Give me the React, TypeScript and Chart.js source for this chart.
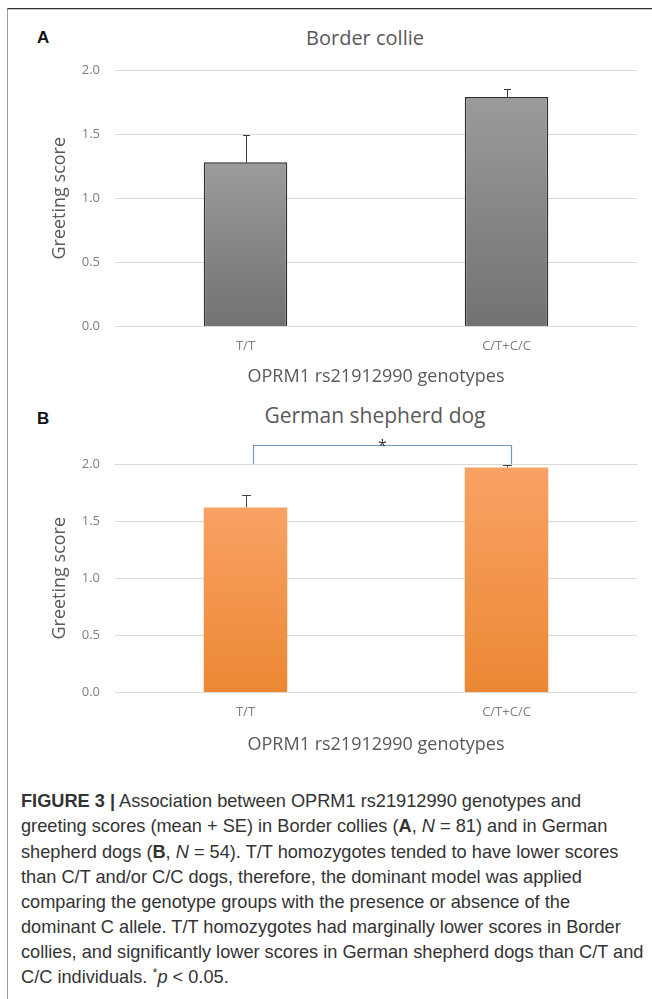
import React, { useEffect, useRef } from "react";
import { Chart, registerables } from "chart.js";

Chart.register(...registerables);

// ---------- data ----------
const categories = ["T/T", "C/T+C/C"];
const collieMeans = [1.28, 1.79];
const collieSE = [0.21, 0.06];
const shepherdMeans = [1.62, 1.97];
const shepherdSE = [0.11, 0.02];
const yTickValues = [0, 0.5, 1.0, 1.5, 2.0];
const yTickLabels = ["0.0", "0.5", "1.0", "1.5", "2.0"];
const yAxisTitle = "Greeting score";
const xAxisTitle = "OPRM1 rs21912990 genotypes";
const panelTitles = ["Border collie", "German shepherd dog"];
const panelLetters = ["A", "B"];
const bracketLevel = 2.17;
const bracketFoot = 2.0;
const bracketLabel = "*";

const FONT = "'Open Sans', 'DejaVu Sans', sans-serif";
const CAPTION_FONT = "'Liberation Sans', Arial, sans-serif";

function gradientFill(colors: [string, string]) {
  return (c: any) => {
    const chart = c.chart;
    const y = chart.scales && chart.scales.y;
    if (!y || c.raw == null) return colors[1];
    const top = y.getPixelForValue(c.raw);
    const bottom = y.getPixelForValue(0);
    if (!isFinite(top) || !isFinite(bottom) || top === bottom) return colors[1];
    const g = chart.ctx.createLinearGradient(0, top, 0, bottom);
    g.addColorStop(0, colors[0]);
    g.addColorStop(1, colors[1]);
    return g;
  };
}

function errorBarPlugin(se: number[], color: string, cap: number) {
  return {
    id: "errorBars",
    afterDatasetsDraw(chart: any) {
      const meta = chart.getDatasetMeta(0);
      const y = chart.scales.y;
      const ctx = chart.ctx;
      const data = chart.data.datasets[0].data as number[];
      ctx.save();
      ctx.strokeStyle = color;
      ctx.lineWidth = 1;
      meta.data.forEach((bar: any, i: number) => {
        const x = Math.round(bar.x) + 0.5;
        const yTop = Math.round(y.getPixelForValue(data[i] + se[i])) + 0.5;
        const yBase = bar.y;
        ctx.beginPath();
        ctx.moveTo(x, yBase);
        ctx.lineTo(x, yTop);
        ctx.moveTo(x - cap / 2, yTop);
        ctx.lineTo(x + cap / 2, yTop);
        ctx.stroke();
      });
      ctx.restore();
    },
  };
}

const bracketPlugin = {
  id: "sigBracket",
  afterDraw(chart: any) {
    const x = chart.scales.x;
    const y = chart.scales.y;
    const ctx = chart.ctx;
    const x1 = Math.round(x.getPixelForValue(0) + 7) + 0.5;
    const x2 = Math.round(x.getPixelForValue(1) + 4) + 0.5;
    const yTop = Math.round(y.getPixelForValue(bracketLevel)) + 0.5;
    const yFoot = y.getPixelForValue(bracketFoot);
    ctx.save();
    ctx.strokeStyle = "#7396c6";
    ctx.lineWidth = 1.2;
    ctx.beginPath();
    ctx.moveTo(x1, yFoot);
    ctx.lineTo(x1, yTop);
    ctx.lineTo(x2, yTop);
    ctx.lineTo(x2, yFoot);
    ctx.stroke();
    ctx.fillStyle = "#333333";
    ctx.font = "16px " + FONT;
    ctx.textAlign = "center";
    ctx.textBaseline = "alphabetic";
    ctx.fillText(bracketLabel, (x1 + x2) / 2, yTop + 5);
    ctx.restore();
  },
};

type PanelProps = {
  top: number;
  height: number;
  means: number[];
  se: number[];
  fill: [string, string];
  border: string;
  borderWidth: number;
  errColor: string;
  cap: number;
  padTop: number;
  padBottom: number;
  xTitlePadTop: number;
  bracket?: boolean;
};

function BarPanel(p: PanelProps) {
  const ref = useRef<HTMLCanvasElement | null>(null);
  useEffect(() => {
    if (!ref.current) return;
    const plugins: any[] = [errorBarPlugin(p.se, p.errColor, p.cap)];
    if (p.bracket) plugins.push(bracketPlugin);
    const chart = new Chart(ref.current, {
      type: "bar",
      data: {
        labels: categories,
        datasets: [
          {
            data: p.means,
            backgroundColor: gradientFill(p.fill) as any,
            borderColor: p.border,
            borderWidth: p.borderWidth,
            barPercentage: 0.32,
            categoryPercentage: 1,
          },
        ],
      },
      options: {
        responsive: false,
        animation: false,
        devicePixelRatio: 1,
        layout: { padding: { left: 0, right: 15, top: p.padTop, bottom: p.padBottom } },
        plugins: {
          legend: { display: false },
          tooltip: { enabled: false },
          title: { display: false },
        },
        scales: {
          x: {
            grid: { display: false, drawTicks: false },
            border: { display: false },
            ticks: { padding: 12, color: "#7f7f7f", font: { family: FONT, size: 13 } },
            title: {
              display: true,
              text: xAxisTitle,
              color: "#595959",
              font: { family: FONT, size: 18 },
              padding: { top: p.xTitlePadTop, bottom: 0 },
            },
          },
          y: {
            min: 0,
            max: 2,
            afterFit: (s: any) => {
              s.width = 115;
            },
            afterBuildTicks: (s: any) => {
              s.ticks = yTickValues.map((v) => ({ value: v }));
            },
            grid: { color: "#d9d9d9", drawTicks: false, lineWidth: 1 },
            border: { display: false },
            ticks: {
              padding: 15,
              color: "#7f7f7f",
              font: { family: FONT, size: 13 },
              callback: (_v: any, i: number) => yTickLabels[i],
            },
            title: {
              display: true,
              text: yAxisTitle,
              color: "#595959",
              font: { family: FONT, size: 18 },
              padding: { top: 49, bottom: 0 },
            },
          },
        },
      } as any,
      plugins,
    });
    return () => chart.destroy();
  }, []);
  return (
    <canvas
      ref={ref}
      width={652}
      height={p.height}
      style={{ position: "absolute", left: 0, top: p.top, width: 652, height: p.height }}
    />
  );
}

const letterStyle: React.CSSProperties = {
  position: "absolute",
  left: 37,
  font: `bold 17px ${CAPTION_FONT}`,
  lineHeight: "18px",
  color: "#111",
};

const titleStyle: React.CSSProperties = {
  position: "absolute",
  transform: "translateX(-50%)",
  fontFamily: FONT,
  lineHeight: "24px",
  color: "#595959",
  whiteSpace: "nowrap",
};

export default function App() {
  return (
    <div
      style={{
        position: "absolute",
        left: 0,
        top: 0,
        width: 652,
        height: 999,
        overflow: "hidden",
        background: "#fff",
      }}
    >
      <div
        style={{
          position: "absolute",
          left: 7,
          top: 8,
          width: 645,
          height: 991,
          borderTop: "1px solid #333",
          borderLeft: "1px solid #9a9a9a",
          boxShadow: "inset 0 1px 0 #c4c4c4",
        }}
      />
      <div style={{ ...letterStyle, top: 29 }}>{panelLetters[0]}</div>
      <div style={{ ...titleStyle, left: 365, top: 26, fontSize: 20 }}>{panelTitles[0]}</div>
      <BarPanel
        top={0}
        height={400}
        means={collieMeans}
        se={collieSE}
        fill={["#9b9b9b", "#727272"]}
        border="#2e2e2e"
        borderWidth={1.5}
        errColor="#3a3a3a"
        cap={7}
        padTop={70}
        padBottom={12.3}
        xTitlePadTop={0}
      />
      <div style={{ ...letterStyle, top: 410 }}>{panelLetters[1]}</div>
      <div style={{ ...titleStyle, left: 375, top: 403, fontSize: 21 }}>{panelTitles[1]}</div>
      <BarPanel
        top={390}
        height={390}
        means={shepherdMeans}
        se={shepherdSE}
        fill={["#f8a264", "#ec8834"]}
        border="rgba(0,0,0,0)"
        borderWidth={0}
        errColor="#444"
        cap={9}
        padTop={74}
        padBottom={24.3}
        xTitlePadTop={2}
        bracket
      />
      <div
        style={{
          position: "absolute",
          left: 21,
          top: 789.4,
          font: `18.2px ${CAPTION_FONT}`,
          lineHeight: "25.1px",
          color: "#333",
          whiteSpace: "nowrap",
        }}
      >
        <b>FIGURE 3 |</b> Association between OPRM1 rs21912990 genotypes and
        <br />
        greeting scores (mean + SE) in Border collies (<b>A</b>, <i>N</i> = 81) and in German
        <br />
        shepherd dogs (<b>B</b>, <i>N</i> = 54). T/T homozygotes tended to have lower scores
        <br />
        than C/T and/or C/C dogs, therefore, the dominant model was applied
        <br />
        comparing the genotype groups with the presence or absence of the
        <br />
        dominant C allele. T/T homozygotes had marginally lower scores in Border
        <br />
        collies, and significantly lower scores in German shepherd dogs than C/T and
        <br />
        C/C individuals.{" "}
        <span style={{ fontSize: "70%", position: "relative", top: "-0.45em", verticalAlign: "baseline" }}>*</span>
        <i>p</i> &lt; 0.05.
      </div>
    </div>
  );
}
